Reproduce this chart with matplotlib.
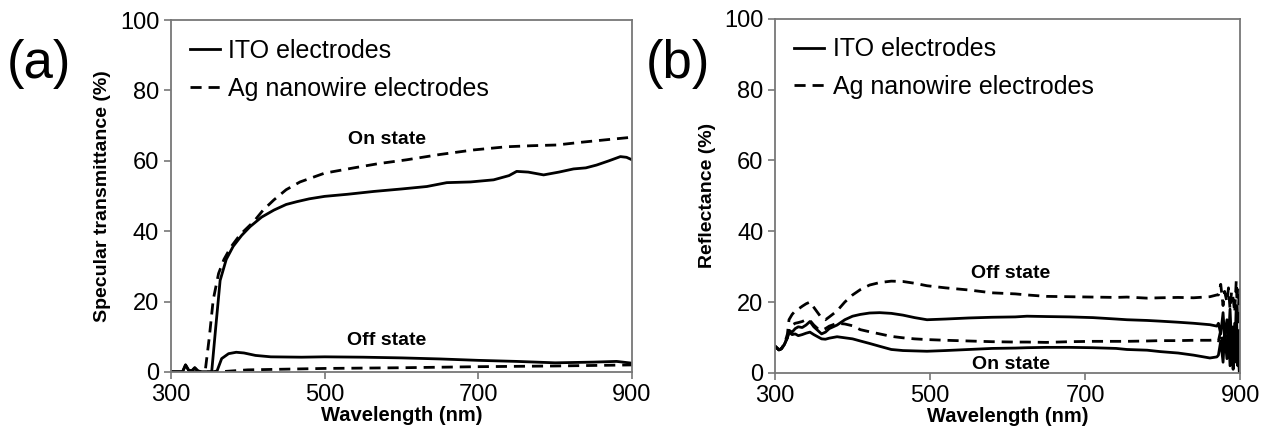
import numpy as np
import matplotlib.pyplot as plt

plt.rcParams['font.family'] = ['Liberation Sans', 'DejaVu Sans']

# (a) specular transmittance
wl_ito_on = [300, 315, 319, 323, 327, 331, 335, 340, 353, 358, 364, 372, 381, 392, 403, 418, 434, 450, 464, 480,
             500, 530, 564, 600, 633, 659, 690, 720, 740, 750, 765, 785, 805, 824, 840, 854, 870, 885, 893, 900]
t_ito_on = [0, 0, 2, 0.5, 0.3, 1.2, 0.3, 0, 0, 12, 26, 32, 35.7, 38.8, 41.3, 44, 46, 47.6, 48.4, 49.2,
            49.9, 50.5, 51.3, 52, 52.7, 53.8, 54, 54.6, 55.8, 57, 56.8, 56, 56.8, 57.7, 58, 58.8, 60, 61.2, 61, 60.3]

wl_ag_on = [300, 340, 345, 350, 355, 362, 369, 378, 390, 408, 420, 434, 450, 468, 500, 538, 570, 607, 650,
            694, 737, 770, 802, 835, 867, 900]
t_ag_on = [0, 0, 1, 10, 20.5, 28, 32, 35.5, 39, 42.8, 46, 48.9, 51.8, 54, 56.5, 58, 59.2, 60.3, 61.8,
           63.1, 64, 64.3, 64.5, 65.3, 66, 66.7]

wl_ito_off = [300, 315, 319, 323, 327, 331, 335, 340, 355, 360, 366, 375, 385, 395, 410, 430, 470, 500,
              550, 600, 650, 700, 750, 800, 850, 880, 900]
t_ito_off = [0, 0, 2, 0.5, 0.3, 1.2, 0.3, 0, 0, 0.3, 3.8, 5.2, 5.6, 5.4, 4.7, 4.3, 4.2, 4.3,
             4.2, 4.0, 3.7, 3.3, 3.0, 2.6, 2.8, 3.0, 2.5]

wl_ag_off = [300, 360, 380, 400, 450, 500, 600, 700, 800, 900]
t_ag_off = [0, 0, 0.3, 0.6, 0.8, 1.0, 1.2, 1.5, 1.7, 2.0]

# (b) reflectance
wl_r = [300, 305, 308, 312, 316, 318, 322, 326, 330, 335, 340, 345, 350, 355, 360, 365, 370, 380, 390,
        400, 410, 422, 435, 450, 465, 480, 496, 520, 550, 580, 610, 625, 650, 680, 710, 740, 754, 780,
        797, 820, 840, 861, 870]
r_ito_off = [7.5, 6.5, 6.8, 8, 10, 12, 11.5, 12.5, 13, 12.8, 13.5, 14.5, 13, 12, 11, 11.5, 12.5, 13.5, 15,
             16, 16.5, 16.9, 17, 16.8, 16.3, 15.6, 15.0, 15.2, 15.5, 15.7, 15.8, 16.0, 15.9, 15.8, 15.6, 15.2, 15.0, 14.8,
             14.6, 14.3, 14.0, 13.6, 13.2]
r_ito_on = [7.5, 6.5, 6.8, 8, 10, 11.5, 10.8, 11, 10.5, 10.8, 11.2, 11.5, 10.8, 10.2, 9.6, 9.5, 9.8, 10.2, 9.9,
            9.6, 9.0, 8.3, 7.5, 6.6, 6.3, 6.2, 6.1, 6.3, 6.6, 6.9, 7.0, 7.1, 7.2, 7.2, 7.1, 6.9, 6.6, 6.4,
            6.0, 5.6, 5.0, 4.2, 4.5]
r_ag_off = [7.5, 6.5, 6.8, 8, 11, 15, 16.5, 17.5, 18, 18.8, 19.5, 20, 18.5, 17, 15.5, 15, 15.8, 17.5, 20,
            22, 23.5, 24.8, 25.5, 25.9, 25.8, 25.3, 24.6, 24, 23.4, 22.6, 22.3, 22, 21.6, 21.5, 21.4, 21.3, 21.4, 21.1,
            21.2, 21.3, 21.2, 21.5, 22]
r_ag_on = [7.5, 6.5, 6.8, 8, 10, 12.5, 13.5, 14, 14.2, 14.5, 15, 14.8, 13.5, 12.5, 12, 12.5, 13.2, 14, 13.8,
           13.3, 12.2, 11.6, 11, 10.3, 9.9, 9.6, 9.4, 9.2, 9.0, 8.8, 8.7, 8.7, 8.6, 8.8, 8.9, 8.9, 8.9, 9.0,
           9.1, 9.1, 9.2, 9.2, 9.4]

# noisy tail 872-900 nm
wl_tail = [872, 875, 878, 880, 883, 885, 887, 889, 891, 893, 895, 897, 899, 900]
tail_ito_off = [14, 11, 17, 10, 15, 9, 18, 8, 13, 4, 19, 2, 12, 7]
tail_ito_on = [5, 9, 3, 11, 4, 12, 2, 10, 1, 14, 3, 9, 0, 6]
tail_ag_off = [22, 25, 19, 23, 20, 24, 18, 23, 21, 17, 26, 14, 24, 20]
tail_ag_on = [9, 12, 7, 11, 8, 13, 6, 10, 12, 5, 14, 4, 11, 8]

fig = plt.figure(figsize=(12.71, 4.46), dpi=100)
ax1 = fig.add_axes([0.1345, 0.166, 0.3627, 0.789])
ax2 = fig.add_axes([0.6098, 0.164, 0.3659, 0.794])

lw = 2.0
dash = (0, (4, 2.5))
ax1.plot(wl_ito_on, t_ito_on, color='black', lw=lw, label='ITO electrodes')
ax1.plot(wl_ag_on, t_ag_on, color='black', lw=lw, ls=dash, label='Ag nanowire electrodes')
ax1.plot(wl_ito_off, t_ito_off, color='black', lw=lw)
ax1.plot(wl_ag_off, t_ag_off, color='black', lw=lw, ls=dash)
ax1.text(581, 66, 'On state', ha='center', va='center', fontsize=14, fontweight='bold')
ax1.text(581, 9, 'Off state', ha='center', va='center', fontsize=14, fontweight='bold')
ax1.set_ylabel('Specular transmittance (%)', fontsize=14, fontweight='bold', labelpad=6)

ax2.plot(wl_r + wl_tail, r_ito_off + tail_ito_off, color='black', lw=lw, label='ITO electrodes')
ax2.plot(wl_r + wl_tail, r_ag_off + tail_ag_off, color='black', lw=lw, ls=dash, label='Ag nanowire electrodes')
ax2.plot(wl_r + wl_tail, r_ito_on + tail_ito_on, color='black', lw=lw)
ax2.plot(wl_r + wl_tail, r_ag_on + tail_ag_on, color='black', lw=lw, ls=dash)
ax2.text(604, 28, 'Off state', ha='center', va='center', fontsize=14, fontweight='bold')
ax2.text(604, 2.5, 'On state', ha='center', va='center', fontsize=14, fontweight='bold')
ax2.set_ylabel('Reflectance (%)', fontsize=14, fontweight='bold', labelpad=6)

for ax in (ax1, ax2):
    ax.set_xlim(300, 900)
    ax.set_ylim(0, 100)
    ax.set_xticks([300, 500, 700, 900])
    ax.set_yticks([0, 20, 40, 60, 80, 100])
    ax.tick_params(direction='out', length=5, width=1.2, color='#777777', labelsize=17)
    for s in ax.spines.values():
        s.set_color('#777777')
        s.set_linewidth(1.3)
    ax.set_xlabel('Wavelength (nm)', fontsize=14.5, fontweight='bold', labelpad=0)
    ax.legend(loc='upper left', frameon=False, fontsize=18, handlelength=1.2,
              handletextpad=0.35, borderaxespad=0.35, labelspacing=0.55)

fig.text(0.005, 0.825, '(a)', fontsize=38)
fig.text(0.508, 0.825, '(b)', fontsize=38)

fig.savefig('out.png', dpi=100)
